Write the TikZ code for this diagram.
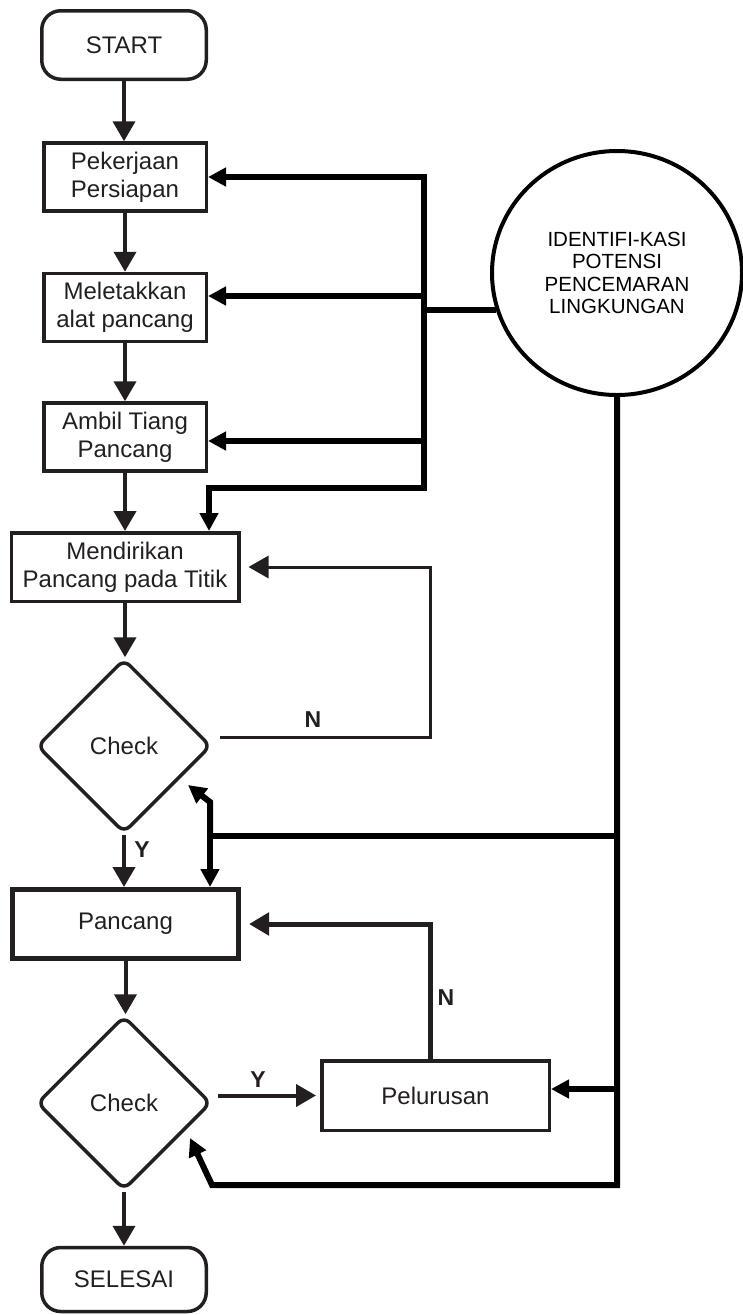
\documentclass[tikz,border=0pt]{standalone}
\usepackage{fontspec}
\setmainfont{Liberation Sans}
\usetikzlibrary{arrows.meta,shapes.geometric}
\definecolor{ink}{RGB}{35,31,32}
\begin{document}
\begin{tikzpicture}[x=1pt,y=-1pt,
  base/.style={draw=ink, text=ink, line width=3.5pt, align=center, inner sep=0pt,
    font=\fontsize{24}{28}\selectfont},
  termbox/.style={base, rounded corners=19pt, minimum width=164.5pt, minimum height=68.5pt},
  procbox/.style={base, minimum width=162.5pt, minimum height=68pt},
  widebox/.style={base, minimum width=227.5pt, minimum height=68.5pt},
  decision/.style={base, diamond, aspect=1, minimum width=174pt, minimum height=174pt,
    rounded corners=8pt},
  flow/.style={draw=ink, line width=4pt, -{Triangle[length=20pt,width=22pt]}},
  thinloop/.style={draw=ink, line width=3pt, -{Triangle[length=20pt,width=22pt]}},
  retloop/.style={draw=ink, line width=5pt, -{Triangle[length=20pt,width=22pt]}},
  bus/.style={draw=black, line width=6pt},
  feed/.style={bus, -{Triangle[length=18pt,width=18pt]}},
  lbl/.style={text=ink, font=\bfseries\fontsize{23}{25}\selectfont, inner sep=0pt}
]
\useasboundingbox (0,0) rectangle (743,1315);

% main column
\node[termbox] (start) at (124,45) {START};
\node[procbox] (pek) at (125,177) {Pekerjaan\\Persiapan};
\node[procbox] (mel) at (125,307.5) {Meletakkan\\alat pancang};
\node[procbox] (amb) at (125,437) {Ambil Tiang\\Pancang};
\node[widebox] (mend) at (125,567) {Mendirikan\\Pancang pada Titik};
\node[decision] (d1) at (124,746) {Check};
\node[widebox, line width=5pt, minimum width=226pt, minimum height=69pt] (panc) at (125.5,924) {Pancang};
\node[decision] (d2) at (124,1103) {Check};
\node[widebox, minimum height=69.5pt] (pel) at (435.5,1095.5) {Pelurusan};
\node[termbox, minimum height=64pt] (end) at (124,1279.5) {SELESAI};

% environmental identification
\node[ellipse, draw=black, line width=4pt, minimum width=250pt, minimum height=244pt,
  inner sep=0pt, align=center, text=black, font=\fontsize{20.5}{22.5}\selectfont]
  (circ) at (617,273) {IDENTIFI-KASI\\POTENSI\\PENCEMARAN\\LINGKUNGAN};

% main flow arrows
\draw[flow] (start.south) -- (start.south |- pek.north);
\draw[flow] (pek.south) -- (pek.south |- mel.north);
\draw[flow] (mel.south) -- (mel.south |- amb.north);
\draw[flow] (amb.south) -- (amb.south |- mend.north);
\draw[flow] (mend.south) -- (mend.south |- d1.north);
\draw[flow] (d1.south) -- (d1.south |- panc.north);
\draw[flow] (panc.south) -- (panc.south |- d2.north);
\draw[flow] (d2.south) -- (d2.south |- end.north);
\draw[flow, shorten <=5pt, shorten >=4pt] (pel.west -| d2.east) -- (pel.west);

\node[lbl] (y1) at (142,850) {Y};
\node[lbl] (y2) at (258,1080) {Y};

% rework loops
\coordinate (n0) at (220,737);
\coordinate (n1) at (430,737);
\draw[thinloop, shorten >=8pt] (n0) -- (n1) |- (mend.east);
\node[lbl] (nA) at (313,720) {N};

\coordinate (p0) at (430,1059);
\draw[retloop, shorten >=8pt] (p0) |- (panc.east);
\node[lbl] (nB) at (446,998) {N};

% upper distribution bus
\coordinate (bT) at (424,177);
\coordinate (b2) at (424,296);
\coordinate (bC) at (424,310);
\coordinate (b3) at (424,441);
\coordinate (bB) at (424,488);
\coordinate (bL) at (209,488);
\draw[feed] (bB) -- (bT) -- (bT -| pek.east);
\draw[feed] (bT) -- (bB) -- (bL) -- (bL |- mend.north);
\draw[feed] (b2) -- (b2 -| mel.east);
\draw[feed] (b3) -- (b3 -| amb.east);
\draw[bus] (bC) -- (bC -| circ.197);

% lower distribution bus
\coordinate (r1) at (617,836);
\coordinate (r2) at (617,1089);
\coordinate (r3) at (617,1185);
\coordinate (l1) at (210,836);
\coordinate (k1) at (210,802);
\coordinate (t1) at (188,785);
\coordinate (l3) at (212,1185);
\coordinate (t2) at (190,1138);
\draw[feed] (circ.south) -- (r3) -- (l3) -- (t2);
\draw[feed] (r2) -- (r2 -| pel.east);
\draw[bus] (r1) -- (l1);
\draw[feed] (l1) -- (k1) -- (t1);
\draw[feed] (l1) -- (l1 |- panc.north);
\end{tikzpicture}
\end{document}
